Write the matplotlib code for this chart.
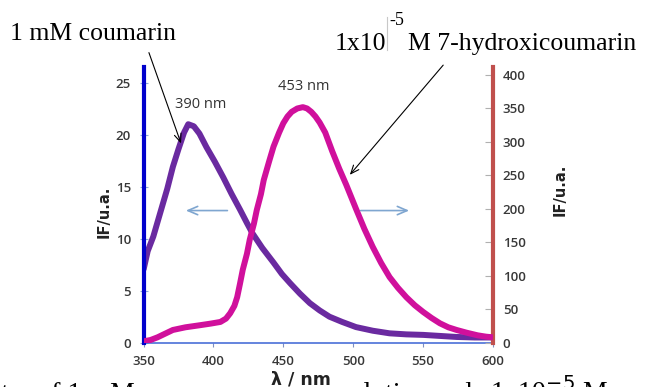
import matplotlib.pyplot as plt
from matplotlib.lines import Line2D

# emission spectra
coumarin_nm = [350, 353, 357, 362, 367, 371, 375, 379, 382, 386, 390, 395, 401, 407,
               413, 419, 424, 428, 435, 443, 449, 455, 462, 469, 476, 483, 492,
               502, 514, 526, 538, 550, 562, 574, 587, 600]
coumarin_if = [7.0, 8.8, 10.2, 12.5, 14.8, 16.9, 18.6, 20.2, 21.0, 20.8, 20.1, 18.8,
               17.4, 15.9, 14.3, 12.8, 11.5, 10.5, 9.1, 7.7, 6.6, 5.7, 4.7, 3.8,
               3.1, 2.5, 2.0, 1.5, 1.15, 0.9, 0.8, 0.75, 0.65, 0.55, 0.5, 0.5]

hydroxy_nm = [350, 355, 360, 366, 371, 380, 390, 398, 405, 409, 412, 415, 417, 419,
              421, 424, 426, 429, 431, 434, 436, 440, 443, 447, 450, 453, 456, 460,
              464, 467, 470, 473, 476, 480, 485, 490, 495, 502, 508, 514, 520,
              526, 532, 538, 544, 550, 556, 562, 568, 574, 581, 589, 595, 600]
hydroxy_if = [2, 4, 8, 14, 19, 23, 26, 28.5, 31, 36, 44, 55, 68, 88, 109, 133, 154,
              178, 198, 222, 243, 272, 293, 314, 328, 338, 345, 350, 352, 350, 345,
              338, 329, 314, 286, 260, 236, 200, 170, 143, 119, 98, 82, 68, 56,
              46, 37, 29, 23, 19, 15, 11, 9, 8]

x_ticks = [350, 400, 450, 500, 550, 600]
left_ticks = [0, 5, 10, 15, 20, 25]
right_ticks = [0, 50, 100, 150, 200, 250, 300, 350, 400]

# words of the page caption under the chart (justified line, only tops visible)
caption_words = ['spectra of 1 mM', 'coumarin', 'solution', 'and', '1x10$^{-5}$ M']
caption_left_px = [-48, 205, 340, 432, 490]

tick_color = '#383838'

fig = plt.figure(figsize=(6.47, 3.87), dpi=100)
ax = fig.add_axes([0.2218, 0.1145, 0.5402, 0.7124])
ax2 = ax.twinx()

ax.plot(coumarin_nm, coumarin_if, color='#6a2aa0', lw=4.3, solid_capstyle='butt', zorder=3)
ax2.plot(hydroxy_nm, hydroxy_if, color='#d0109c', lw=4.3, solid_capstyle='butt', zorder=3)

ax.set_xlim(350, 600)
ax.set_ylim(0, 26.5)
ax2.set_ylim(0, 412)
ax.set_xticks(x_ticks)
ax.set_yticks(left_ticks)
ax2.set_yticks(right_ticks)

for a in (ax, ax2):
    a.spines['top'].set_visible(False)
ax.spines['right'].set_visible(False)
ax2.spines['left'].set_visible(False)
ax2.spines['bottom'].set_visible(False)
ax.spines['left'].set_color('#0000cc')
ax.spines['left'].set_linewidth(3)
ax.spines['left'].set_zorder(5)
ax2.spines['right'].set_color('#c0504d')
ax2.spines['right'].set_linewidth(3)
ax.spines['bottom'].set_color('#4a6fd8')
ax.spines['bottom'].set_linewidth(1.2)

ax.tick_params(axis='x', direction='out', length=3, color='#8090c0', pad=6, labelcolor=tick_color)
ax.tick_params(axis='y', direction='inout', length=6, color='#8fa8d8', pad=6, labelcolor=tick_color)
ax2.tick_params(axis='y', direction='in', length=6, color='#b0b0b0', pad=7, labelcolor=tick_color)
for lab in ax.get_xticklabels() + ax.get_yticklabels() + ax2.get_yticklabels():
    lab.set_fontfamily('Open Sans')
    lab.set_fontsize(9.5)
    lab.set_fontweight('semibold')

# caption from the page, cut by the lower edge
serif = 'Liberation Serif'
for word, left in zip(caption_words, caption_left_px):
    fig.text(left / 647, 1 - 401 / 387, word, fontsize=20, family=serif, va='baseline', zorder=1)

# axis titles
fig.text(104 / 647, 1 - 212 / 387, 'IF/u.a.', rotation=90, ha='center', va='center',
         fontsize=10.5, fontweight='bold', color='#222222')
fig.text(560 / 647, 1 - 190 / 387, 'IF/u.a.', rotation=90, ha='center', va='center',
         fontsize=10.5, fontweight='bold', color='#222222')
fig.text(301 / 647, 1 - 385 / 387, 'λ / nm', ha='center', va='baseline',
         fontsize=12.5, fontweight='bold', color='#222222', zorder=3,
         bbox=dict(facecolor='white', edgecolor='none', pad=1))

# peak labels
ax.text(372.5, 22.9, '390 nm', ha='left', va='center', fontsize=10.5, color='#333333',
        family='Open Sans')
ax.text(446, 24.6, '453 nm', ha='left', va='center', fontsize=10.5, color='#333333',
        family='Open Sans')

# arrows that say which axis belongs to which curve
ax.annotate('', xy=(378.3, 12.7), xytext=(412, 12.7),
            arrowprops=dict(arrowstyle='->,head_length=0.7,head_width=0.3', color='#7fa6d0', lw=1.2))
ax.annotate('', xy=(542, 12.7), xytext=(503.4, 12.7),
            arrowprops=dict(arrowstyle='->,head_length=0.7,head_width=0.3', color='#7fa6d0', lw=1.2))

# callouts
fig.text(10 / 647, 1 - 40 / 387, '1 mM coumarin', fontsize=18.5, family=serif, va='baseline')
ax.annotate('', xy=(377.5, 18.9), xytext=(148 / 647, 1 - 50 / 387), textcoords='figure fraction',
            arrowprops=dict(arrowstyle='->,head_length=0.6,head_width=0.25', color='black', lw=0.8))

fig.text(335 / 647, 1 - 50 / 387, '1x10', fontsize=18.5, family=serif, va='baseline')
fig.text(389 / 647, 1 - 25 / 387, '-5', fontsize=13, family=serif, va='baseline')
fig.text(408 / 647, 1 - 50 / 387, 'M 7-hydroxicoumarin', fontsize=18.5, family=serif, va='baseline')
fig.add_artist(Line2D([387 / 647, 387 / 647], [1 - 17 / 387, 1 - 50 / 387],
                      transform=fig.transFigure, color='#c8c8c8', lw=0.8))
ax2.annotate('', xy=(496.3, 247.7), xytext=(445 / 647, 1 - 63 / 387), textcoords='figure fraction',
             arrowprops=dict(arrowstyle='->,head_length=0.6,head_width=0.25', color='black', lw=0.8))

fig.savefig('out.png', dpi=100)
